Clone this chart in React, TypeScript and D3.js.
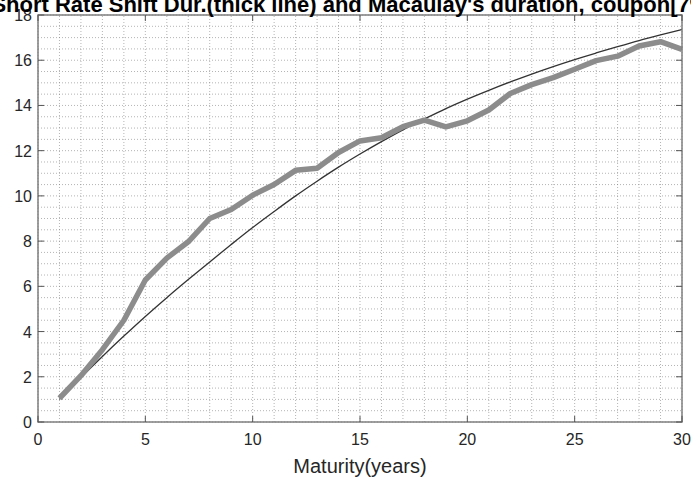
import React from 'react';
import * as d3 from 'd3';

const maturities = d3.range(1, 31);

// short rate shift duration (thick grey line)
const shiftDur = [
  1.05, 2.05, 3.2, 4.5, 6.28, 7.25, 7.97, 9.0, 9.4, 10.03,
  10.5, 11.13, 11.22, 11.92, 12.43, 12.57, 13.06, 13.35, 13.05, 13.32,
  13.8, 14.53, 14.92, 15.23, 15.6, 15.98, 16.18, 16.63, 16.82, 16.48,
];

// Macaulay duration (thin dark line)
const macaulay = [
  1.0, 1.97, 2.9, 3.8, 4.67, 5.5, 6.3, 7.08, 7.85, 8.6,
  9.31, 10.0, 10.65, 11.27, 11.85, 12.4, 12.92, 13.4, 13.86, 14.28,
  14.67, 15.04, 15.39, 15.72, 16.03, 16.32, 16.6, 16.87, 17.12, 17.36,
];

const xTicks = [0, 5, 10, 15, 20, 25, 30];
const yTicks = [0, 2, 4, 6, 8, 10, 12, 14, 16, 18];

const title = "Short Rate Shift Dur.(thick line) and Macaulay's duration, coupon[7%]";
const xLabel = 'Maturity(years)';

const W = 691;
const H = 480;
const margin = { top: 15, right: 9, bottom: 58, left: 38 };

const App: React.FC = () => {
  const x = d3.scaleLinear().domain([0, 30]).range([margin.left, W - margin.right]);
  const y = d3.scaleLinear().domain([0, 18]).range([H - margin.bottom, margin.top]);

  const line = d3.line<number>()
    .x((_, i) => x(maturities[i]))
    .y(d => y(d));

  const minorX = d3.range(0, 31, 1);
  const minorY = d3.range(0, 18.01, 0.5);
  const [x0, x1] = x.range();
  const [y0, y1] = y.range();
  const font = 'Liberation Sans, Arial, sans-serif';

  return (
    <svg width={W} height={H} style={{ position: 'absolute', left: 0, top: 0, background: '#fff' }}>
      {/* grid */}
      <g stroke="#777" strokeWidth={1} strokeDasharray="1,2" strokeOpacity={0.55}>
        {minorX.map(v => (
          <line key={'gx' + v} x1={x(v)} x2={x(v)} y1={y0} y2={y1} />
        ))}
        {minorY.map(v => (
          <line key={'gy' + v} x1={x0} x2={x1} y1={y(v)} y2={y(v)} />
        ))}
      </g>

      {/* curves */}
      <path d={line.curve(d3.curveMonotoneX)(macaulay) ?? ''} fill="none" stroke="#333" strokeWidth={1.3} />
      <path d={line.curve(d3.curveLinear)(shiftDur) ?? ''} fill="none" stroke="#8c8c8c" strokeWidth={5.5} strokeLinejoin="round" />

      {/* box and ticks */}
      <rect x={x0} y={y1} width={x1 - x0} height={y0 - y1} fill="none" stroke="#7f7f7f" strokeWidth={1.5} />
      <g stroke="#555" strokeWidth={1}>
        {xTicks.map(v => (
          <g key={'tx' + v}>
            <line x1={x(v)} x2={x(v)} y1={y0} y2={y0 - 6} />
            <line x1={x(v)} x2={x(v)} y1={y1} y2={y1 + 6} />
          </g>
        ))}
        {yTicks.map(v => (
          <g key={'ty' + v}>
            <line x1={x0} x2={x0 + 6} y1={y(v)} y2={y(v)} />
            <line x1={x1} x2={x1 - 6} y1={y(v)} y2={y(v)} />
          </g>
        ))}
      </g>

      {/* tick labels */}
      <g fontFamily={font} fontSize={16} fill="#262626">
        {xTicks.map(v => (
          <text key={'lx' + v} x={x(v)} y={y0 + 23} textAnchor="middle">{v}</text>
        ))}
        {yTicks.map(v => (
          <text key={'ly' + v} x={x0 - 6} y={y(v) + 6} textAnchor="end">{v}</text>
        ))}
      </g>

      <text x={(x0 + x1) / 2} y={H - 7} textAnchor="middle" fontFamily={font} fontSize={20} fill="#262626">
        {xLabel}
      </text>
      <text x={(x0 + x1) / 2 - 6} y={12} textAnchor="middle" fontFamily={font} fontSize={22} fontWeight="bold" fill="#000">
        {title}
      </text>
    </svg>
  );
};

export default App;
